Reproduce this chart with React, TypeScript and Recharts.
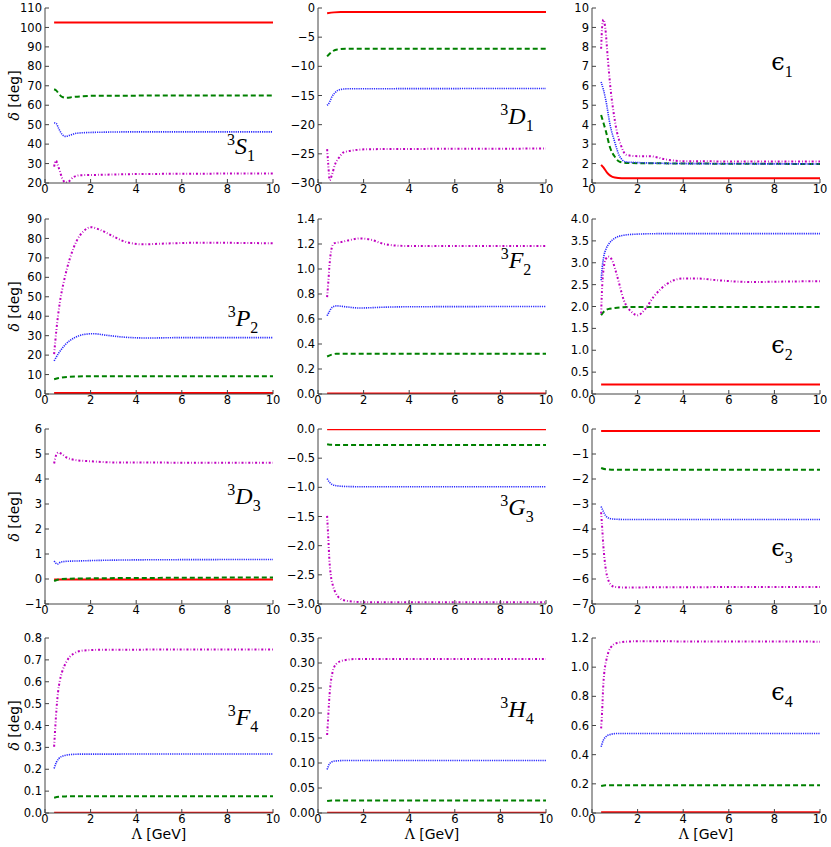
import { Line, LineChart, XAxis, YAxis } from "recharts";

type Pt = [number, number];

const X_TICKS = [0, 2, 4, 6, 8, 10];

// 3S1
const S1_TICKS = [20, 30, 40, 50, 60, 70, 80, 90, 100, 110];
const S1_RED: Pt[] = [[0.4, 102.5], [10, 102.5]];
const S1_GREEN: Pt[] = [[0.4, 68.2], [0.5, 67.5], [0.6, 66], [0.75, 64.3], [0.95, 63.8], [1.2, 64.2], [1.6, 64.6], [2.5, 64.9], [10, 65]];
const S1_BLUE: Pt[] = [[0.4, 51], [0.5, 50.5], [0.6, 48], [0.75, 45], [0.9, 44], [1.1, 44.6], [1.4, 45.6], [2, 46], [4, 46.3], [10, 46.3]];
const S1_MAG: Pt[] = [[0.4, 28.4], [0.48, 31.5], [0.55, 29.5], [0.65, 26.2], [0.75, 22.5], [0.9, 20.3], [1.02, 20.6], [1.25, 23], [1.55, 24], [2.4, 24.2], [4, 24.6], [10, 24.9]];

// 3D1
const D1_TICKS = [-30, -25, -20, -15, -10, -5, 0];
const D1_RED: Pt[] = [[0.4, -0.9], [0.7, -0.75], [1, -0.7], [10, -0.7]];
const D1_GREEN: Pt[] = [[0.4, -8.3], [0.5, -7.9], [0.65, -7.4], [0.85, -7.1], [1.2, -7.0], [10, -7.0]];
const D1_BLUE: Pt[] = [[0.4, -16.7], [0.5, -16.2], [0.6, -15.3], [0.75, -14.5], [0.95, -14.0], [1.3, -13.85], [10, -13.8]];
const D1_MAG: Pt[] = [[0.4, -24.2], [0.45, -26.8], [0.51, -29.5], [0.62, -28.5], [0.73, -27], [0.95, -25.5], [1.1, -24.8], [1.4, -24.5], [2.3, -24.2], [10, -24.1]];

// epsilon 1
const E1_TICKS = [1, 2, 3, 4, 5, 6, 7, 8, 9, 10];
const E1_RED: Pt[] = [[0.4, 1.93], [0.5, 1.8], [0.65, 1.55], [0.8, 1.38], [1.0, 1.28], [1.3, 1.25], [10, 1.25]];
const E1_GREEN: Pt[] = [[0.4, 4.5], [0.5, 4.1], [0.6, 3.7], [0.8, 2.8], [1.0, 2.35], [1.2, 2.1], [1.5, 2.03], [2, 2.02], [10, 1.98]];
const E1_BLUE: Pt[] = [[0.4, 6.2], [0.5, 5.8], [0.6, 5.3], [0.8, 3.95], [1.0, 3.1], [1.2, 2.4], [1.5, 2.08], [2, 2.05], [4, 2.0], [10, 1.98]];
const E1_MAG: Pt[] = [[0.4, 7.9], [0.45, 9.1], [0.5, 9.4], [0.58, 9.0], [0.7, 7.3], [0.8, 6.0], [0.95, 4.6], [1.1, 3.6], [1.25, 3.0], [1.5, 2.45], [2, 2.38], [2.5, 2.38], [3.3, 2.2], [4, 2.12], [10, 2.1]];

// 3P2
const P2_TICKS = [0, 10, 20, 30, 40, 50, 60, 70, 80, 90];
const P2_RED: Pt[] = [[0.4, 0.5], [10, 0.5]];
const P2_GREEN: Pt[] = [[0.4, 7.6], [0.6, 8.2], [1.0, 8.8], [2, 9.1], [4, 9.1], [10, 9.1]];
const P2_BLUE: Pt[] = [[0.4, 17], [0.6, 21], [0.9, 25.5], [1.3, 29], [1.7, 30.6], [2.1, 31], [2.7, 30.2], [3.5, 29.2], [4.5, 28.8], [6, 29], [10, 29]];
const P2_MAG: Pt[] = [[0.4, 20.5], [0.5, 33], [0.65, 47], [0.85, 59], [1.1, 70], [1.4, 79], [1.7, 83.8], [2.0, 85.8], [2.4, 84.5], [3.0, 81], [3.6, 78], [4.3, 77], [5.3, 77.4], [6.8, 77.8], [10, 77.5]];

// 3F2
const F2_TICKS = [0, 0.2, 0.4, 0.6, 0.8, 1.0, 1.2, 1.4];
const F2_RED: Pt[] = [[0.4, 0.005], [10, 0.005]];
const F2_GREEN: Pt[] = [[0.4, 0.3], [0.6, 0.315], [0.8, 0.322], [10, 0.322]];
const F2_BLUE: Pt[] = [[0.4, 0.626], [0.5, 0.66], [0.6, 0.69], [0.8, 0.705], [1.2, 0.698], [1.8, 0.688], [3, 0.695], [4, 0.698], [10, 0.7]];
const F2_MAG: Pt[] = [[0.4, 0.775], [0.45, 0.89], [0.5, 1.02], [0.58, 1.15], [0.7, 1.205], [1.0, 1.215], [1.4, 1.232], [1.85, 1.245], [2.3, 1.235], [2.9, 1.2], [3.7, 1.185], [5, 1.183], [10, 1.185]];

// epsilon 2
const E2_TICKS = [0, 0.5, 1.0, 1.5, 2.0, 2.5, 3.0, 3.5, 4.0];
const E2_RED: Pt[] = [[0.4, 0.22], [10, 0.22]];
const E2_GREEN: Pt[] = [[0.4, 1.8], [0.5, 1.87], [0.7, 1.94], [1.1, 1.97], [1.8, 1.99], [10, 1.99]];
const E2_BLUE: Pt[] = [[0.4, 2.6], [0.45, 2.9], [0.52, 3.15], [0.62, 3.32], [0.75, 3.44], [1.0, 3.56], [1.4, 3.63], [2, 3.655], [3, 3.665], [10, 3.665]];
const E2_MAG: Pt[] = [[0.4, 1.84], [0.45, 2.5], [0.52, 2.9], [0.6, 3.08], [0.72, 3.14], [0.88, 3.06], [1.1, 2.7], [1.4, 2.14], [1.75, 1.87], [2.0, 1.8], [2.3, 1.92], [2.7, 2.22], [3.3, 2.52], [4.0, 2.64], [4.6, 2.64], [5.5, 2.6], [7, 2.56], [8.5, 2.57], [10, 2.58]];

// 3D3
const D3_TICKS = [-1, 0, 1, 2, 3, 4, 5, 6];
const D3_RED: Pt[] = [[0.4, -0.02], [10, -0.02]];
const D3_GREEN: Pt[] = [[0.4, -0.08], [0.55, -0.03], [0.7, 0.0], [1.4, 0.02], [5, 0.045], [10, 0.06]];
const D3_BLUE: Pt[] = [[0.4, 0.72], [0.47, 0.64], [0.55, 0.6], [0.7, 0.68], [1.0, 0.71], [1.4, 0.72], [2.4, 0.745], [5, 0.77], [10, 0.78]];
const D3_MAG: Pt[] = [[0.4, 4.62], [0.5, 4.98], [0.6, 5.06], [0.7, 5.02], [0.95, 4.86], [1.4, 4.75], [2, 4.71], [3.2, 4.66], [10, 4.65]];

// 3G3
const G3_TICKS = [-3.0, -2.5, -2.0, -1.5, -1.0, -0.5, 0];
const G3_RED: Pt[] = [[0.4, -0.005], [10, -0.005]];
const G3_GREEN: Pt[] = [[0.4, -0.26], [0.6, -0.272], [1, -0.275], [10, -0.275]];
const G3_BLUE: Pt[] = [[0.4, -0.85], [0.5, -0.91], [0.6, -0.945], [0.75, -0.968], [1.2, -0.985], [2, -0.99], [10, -0.99]];
const G3_MAG: Pt[] = [[0.4, -1.49], [0.45, -1.86], [0.5, -2.25], [0.56, -2.5], [0.65, -2.68], [0.75, -2.79], [0.95, -2.9], [1.3, -2.95], [2.2, -2.97], [10, -2.97]];

// epsilon 3
const E3_TICKS = [-7, -6, -5, -4, -3, -2, -1, 0];
const E3_RED: Pt[] = [[0.4, -0.08], [10, -0.08]];
const E3_GREEN: Pt[] = [[0.4, -1.56], [0.6, -1.61], [1, -1.63], [10, -1.63]];
const E3_BLUE: Pt[] = [[0.4, -3.1], [0.5, -3.3], [0.6, -3.47], [0.75, -3.57], [0.9, -3.6], [1.5, -3.62], [10, -3.62]];
const E3_MAG: Pt[] = [[0.4, -3.33], [0.45, -4.0], [0.5, -4.7], [0.55, -5.2], [0.62, -5.7], [0.7, -6.0], [0.8, -6.2], [1.0, -6.32], [1.5, -6.34], [3, -6.33], [10, -6.32]];

// 3F4
const F4_TICKS = [0, 0.1, 0.2, 0.3, 0.4, 0.5, 0.6, 0.7, 0.8];
const F4_RED: Pt[] = [[0.4, 0.001], [10, 0.001]];
const F4_GREEN: Pt[] = [[0.4, 0.07], [0.6, 0.074], [0.9, 0.076], [10, 0.077]];
const F4_BLUE: Pt[] = [[0.4, 0.203], [0.5, 0.232], [0.6, 0.248], [0.8, 0.261], [1.1, 0.267], [1.5, 0.269], [10, 0.27]];
const F4_MAG: Pt[] = [[0.4, 0.303], [0.45, 0.39], [0.5, 0.47], [0.57, 0.55], [0.65, 0.605], [0.75, 0.645], [0.95, 0.693], [1.25, 0.728], [1.7, 0.743], [2.4, 0.746], [10, 0.748]];

// 3H4
const H4_TICKS = [0, 0.05, 0.1, 0.15, 0.2, 0.25, 0.3, 0.35];
const H4_RED: Pt[] = [[0.4, 0.0005], [10, 0.0005]];
const H4_GREEN: Pt[] = [[0.4, 0.024], [0.6, 0.025], [10, 0.025]];
const H4_BLUE: Pt[] = [[0.4, 0.087], [0.5, 0.098], [0.6, 0.102], [0.75, 0.104], [1.2, 0.105], [10, 0.105]];
const H4_MAG: Pt[] = [[0.4, 0.156], [0.44, 0.186], [0.48, 0.219], [0.54, 0.253], [0.63, 0.28], [0.8, 0.298], [1.1, 0.305], [1.7, 0.308], [10, 0.308]];

// epsilon 4
const E4_TICKS = [0, 0.2, 0.4, 0.6, 0.8, 1.0, 1.2];
const E4_RED: Pt[] = [[0.4, 0.005], [10, 0.005]];
const E4_GREEN: Pt[] = [[0.4, 0.185], [0.6, 0.19], [10, 0.19]];
const E4_BLUE: Pt[] = [[0.4, 0.454], [0.5, 0.5], [0.6, 0.522], [0.75, 0.536], [1.1, 0.545], [10, 0.545]];
const E4_MAG: Pt[] = [[0.4, 0.58], [0.44, 0.684], [0.5, 0.89], [0.56, 0.99], [0.63, 1.05], [0.8, 1.13], [1.1, 1.166], [1.8, 1.177], [10, 1.175]];

// red solid, green dashed, blue dotted, magenta dash-dot
const LINE_STYLES = [
  { stroke: "#ff0000", width: 2, dash: undefined },
  { stroke: "#008000", width: 2, dash: "5 3" },
  { stroke: "#2a2aff", width: 1.6, dash: "1.2 1" },
  { stroke: "#bf00bf", width: 2, dash: "2 2 0.8 2" },
];

const COL_X = [0, 273, 547];
const ROW_Y = [0, 211, 421, 630];
const AXIS = "#444";
const TICK_FONT = { fill: "#000", fontSize: 11.5, fontFamily: "DejaVu Sans" };

type Lbl = { sup?: string; main: string; sub: string; italic: boolean; cx: number; cy: number };

const PANELS: { ticks: number[]; dec: number; series: Pt[][]; label: Lbl }[] = [
  { ticks: S1_TICKS, dec: 0, series: [S1_RED, S1_GREEN, S1_BLUE, S1_MAG], label: { sup: "3", main: "S", sub: "1", italic: true, cx: 241, cy: 148 } },
  { ticks: D1_TICKS, dec: 0, series: [D1_RED, D1_GREEN, D1_BLUE, D1_MAG], label: { sup: "3", main: "D", sub: "1", italic: true, cx: 517, cy: 118 } },
  { ticks: E1_TICKS, dec: 0, series: [E1_RED, E1_GREEN, E1_BLUE, E1_MAG], label: { main: "ϵ", sub: "1", italic: false, cx: 782, cy: 65 } },
  { ticks: P2_TICKS, dec: 0, series: [P2_RED, P2_GREEN, P2_BLUE, P2_MAG], label: { sup: "3", main: "P", sub: "2", italic: true, cx: 243, cy: 320 } },
  { ticks: F2_TICKS, dec: 1, series: [F2_RED, F2_GREEN, F2_BLUE, F2_MAG], label: { sup: "3", main: "F", sub: "2", italic: true, cx: 516, cy: 262 } },
  { ticks: E2_TICKS, dec: 1, series: [E2_RED, E2_GREEN, E2_BLUE, E2_MAG], label: { main: "ϵ", sub: "2", italic: false, cx: 782, cy: 348 } },
  { ticks: D3_TICKS, dec: 0, series: [D3_RED, D3_GREEN, D3_BLUE, D3_MAG], label: { sup: "3", main: "D", sub: "3", italic: true, cx: 244, cy: 498 } },
  { ticks: G3_TICKS, dec: 1, series: [G3_RED, G3_GREEN, G3_BLUE, G3_MAG], label: { sup: "3", main: "G", sub: "3", italic: true, cx: 517, cy: 509 } },
  { ticks: E3_TICKS, dec: 0, series: [E3_RED, E3_GREEN, E3_BLUE, E3_MAG], label: { main: "ϵ", sub: "3", italic: false, cx: 782, cy: 551 } },
  { ticks: F4_TICKS, dec: 1, series: [F4_RED, F4_GREEN, F4_BLUE, F4_MAG], label: { sup: "3", main: "F", sub: "4", italic: true, cx: 243, cy: 719 } },
  { ticks: H4_TICKS, dec: 2, series: [H4_RED, H4_GREEN, H4_BLUE, H4_MAG], label: { sup: "3", main: "H", sub: "4", italic: true, cx: 517, cy: 711 } },
  { ticks: E4_TICKS, dec: 1, series: [E4_RED, E4_GREEN, E4_BLUE, E4_MAG], label: { main: "ϵ", sub: "4", italic: false, cx: 782, cy: 695 } },
];

const fmt = (dec: number) => (v: number) => v.toFixed(dec).replace("-", "\u2212");

function YTitle(props: any) {
  const vb = props.viewBox;
  const cx = vb.x + 14;
  const cy = vb.y + vb.height / 2;
  return (
    <text x={cx} y={cy} transform={`rotate(-90, ${cx}, ${cy})`} textAnchor="middle" dominantBaseline="central" fontSize={14} fill="#000" fontFamily="DejaVu Sans">
      <tspan fontFamily="DejaVu Serif" fontStyle="italic">δ</tspan> [deg]
    </text>
  );
}

function XTitle(props: any) {
  const vb = props.viewBox;
  const cx = vb.x + vb.width / 2;
  const cy = vb.y + 21;
  return (
    <text x={cx} y={cy} textAnchor="middle" dominantBaseline="central" fontSize={14} fill="#000" fontFamily="DejaVu Sans">
      <tspan fontFamily="DejaVu Serif">Λ</tspan> [GeV]
    </text>
  );
}

function Panel({ idx }: { idx: number }) {
  const p = PANELS[idx];
  const col = idx % 3;
  const row = Math.floor(idx / 3);
  const bottom = row === 3;
  const h = bottom ? 223 : 205;
  const lo = p.ticks[0];
  const hi = p.ticks[p.ticks.length - 1];
  return (
    <div style={{ position: "absolute", left: COL_X[col], top: ROW_Y[row] }}>
      <LineChart width={285} height={h} margin={{ top: 8, right: 12, bottom: 0, left: 0 }}>
        <XAxis xAxisId="b" dataKey="x" type="number" domain={[0, 10]} ticks={X_TICKS} interval={0} allowDataOverflow height={h - 183}
          tickSize={-4} tickMargin={6} stroke={AXIS} tick={TICK_FONT} label={bottom ? XTitle : undefined} />
        <XAxis xAxisId="t" orientation="top" dataKey="x" type="number" domain={[0, 10]} ticks={X_TICKS} interval={0} allowDataOverflow height={0}
          tickSize={-4} stroke={AXIS} tick={false} />
        <YAxis yAxisId="l" type="number" domain={[lo, hi]} ticks={p.ticks} interval={0} allowDataOverflow width={45}
          tickSize={-4} tickMargin={7} stroke={AXIS} tick={TICK_FONT} tickFormatter={fmt(p.dec)} label={col === 0 ? YTitle : undefined} />
        <YAxis yAxisId="r" orientation="right" type="number" domain={[lo, hi]} ticks={p.ticks} interval={0} allowDataOverflow width={0}
          tickSize={-4} stroke={AXIS} tick={false} />
        {p.series.map((s, i) => (
          <Line key={i} xAxisId="b" yAxisId="l" data={s.map(([x, y]) => ({ x, y }))} dataKey="y" type="monotone"
            stroke={LINE_STYLES[i].stroke} strokeWidth={LINE_STYLES[i].width} strokeDasharray={LINE_STYLES[i].dash}
            dot={false} activeDot={false} isAnimationActive={false} />
        ))}
      </LineChart>
    </div>
  );
}

function PanelLabel({ l }: { l: Lbl }) {
  return (
    <div style={{ position: "absolute", left: l.cx, top: l.cy, transform: "translate(-50%, -50%)", whiteSpace: "nowrap",
      fontFamily: l.italic ? "'Liberation Serif', serif" : "'DejaVu Serif', serif", fontSize: 24, lineHeight: 1, color: "#000" }}>
      {l.sup && <span style={{ fontSize: 16, verticalAlign: "0.55em" }}>{l.sup}</span>}
      <span style={{ fontStyle: l.italic ? "italic" : "normal" }}>{l.main}</span>
      <span style={{ fontSize: 16, verticalAlign: "-0.4em", fontFamily: "'Liberation Serif', serif" }}>{l.sub}</span>
    </div>
  );
}

export default function App() {
  return (
    <div style={{ position: "absolute", left: 0, top: 0, width: 831, height: 847, overflow: "hidden", background: "#fff" }}>
      {PANELS.map((_, i) => <Panel key={i} idx={i} />)}
      {PANELS.map((p, i) => <PanelLabel key={`l${i}`} l={p.label} />)}
    </div>
  );
}
